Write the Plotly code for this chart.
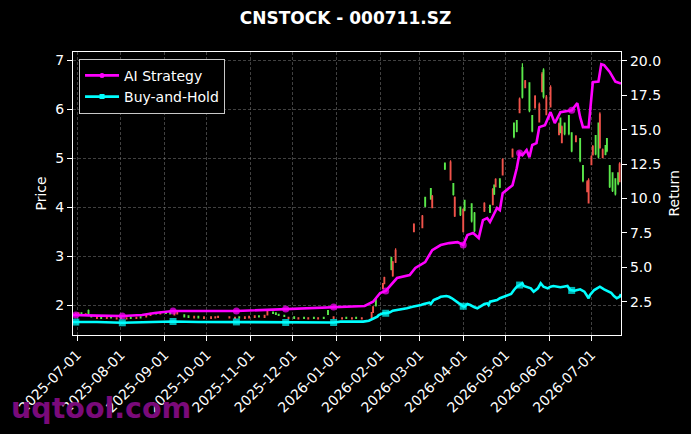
import plotly.graph_objects as go

# ---------------- data ----------------
candle_dates = [
    "2025-06-30","2025-07-02","2025-07-04","2025-07-07","2025-07-09","2025-07-11","2025-07-15","2025-07-18","2025-07-22","2025-07-25",
    "2025-07-29","2025-08-01","2025-08-05","2025-08-08","2025-08-12","2025-08-15","2025-08-19","2025-08-22","2025-08-26","2025-08-29",
    "2025-09-02","2025-09-05","2025-09-08","2025-09-10","2025-09-15","2025-09-18","2025-09-22","2025-09-25","2025-09-29","2025-10-04",
    "2025-10-07","2025-10-09","2025-10-17","2025-10-21","2025-10-24","2025-10-28","2025-10-31","2025-11-04","2025-11-07","2025-11-11",
    "2025-11-13","2025-11-17","2025-11-19","2025-11-21","2025-11-25","2025-11-28","2025-12-02","2025-12-05","2025-12-09","2025-12-12",
    "2025-12-16","2025-12-19","2025-12-23","2025-12-26","2025-12-30","2026-01-05","2026-01-08","2026-01-12","2026-01-15","2026-01-19",
    "2026-01-26","2026-01-27","2026-01-29","2026-02-03","2026-02-04","2026-02-09","2026-02-10","2026-02-12","2026-02-25","2026-03-03",
    "2026-03-05","2026-03-09","2026-03-10","2026-03-19","2026-03-23","2026-03-25","2026-03-26","2026-03-30","2026-04-01","2026-04-02",
    "2026-04-07","2026-04-09","2026-04-16","2026-04-20","2026-04-22","2026-04-23","2026-04-24","2026-04-27","2026-04-29","2026-05-06",
    "2026-05-07","2026-05-09","2026-05-11","2026-05-13","2026-05-15","2026-05-18","2026-05-20","2026-05-22","2026-05-25","2026-05-27",
    "2026-05-28","2026-05-30","2026-06-02","2026-06-08","2026-06-09","2026-06-10","2026-06-12","2026-06-15","2026-06-17","2026-06-20",
    "2026-06-23","2026-06-25","2026-06-28","2026-06-29","2026-07-01","2026-07-02","2026-07-04","2026-07-06","2026-07-07","2026-07-09",
    "2026-07-11","2026-07-12","2026-07-14","2026-07-16","2026-07-18","2026-07-20","2026-07-21",
]
opens = [
    1.80,1.82,1.84,1.81,1.89,1.79,1.73,1.75,1.73,1.76,
    1.72,1.75,1.72,1.75,1.73,1.76,1.76,1.79,1.85,1.82,
    1.86,1.85,1.80,1.82,1.80,1.78,1.74,1.77,1.73,1.73,
    1.74,1.75,1.74,1.73,1.76,1.73,1.74,1.75,1.78,1.75,
    1.80,1.86,1.84,1.81,1.79,1.73,1.76,1.72,1.75,1.72,
    1.75,1.72,1.75,1.89,1.73,1.72,1.75,1.72,1.75,1.72,
    1.74,1.85,2.12,2.34,2.44,2.97,2.60,2.88,3.50,3.58,
    4.20,4.38,3.99,4.90,4.56,4.48,3.82,4.00,3.50,4.14,
    4.07,3.88,3.92,4.04,4.05,4.45,4.42,4.58,4.66,5.03,
    5.72,5.77,5.93,6.85,6.44,6.54,5.87,6.03,5.74,6.36,
    6.80,5.89,6.05,5.48,5.82,5.32,5.72,5.87,5.52,5.34,
    5.40,4.85,4.32,4.09,4.87,5.07,5.46,5.72,5.21,5.01,
    5.26,5.40,4.85,4.70,4.58,4.70,4.52,
]
highs = [
    1.84,1.85,1.85,1.83,1.91,1.80,1.76,1.76,1.76,1.77,
    1.75,1.76,1.75,1.76,1.76,1.77,1.80,1.84,1.86,1.87,
    1.87,1.86,1.84,1.86,1.81,1.79,1.78,1.78,1.77,1.77,
    1.77,1.78,1.77,1.76,1.77,1.77,1.78,1.79,1.79,1.80,
    1.90,1.87,1.85,1.82,1.80,1.76,1.77,1.75,1.76,1.75,
    1.76,1.75,1.76,1.90,1.77,1.75,1.76,1.75,1.76,1.75,
    1.86,1.98,2.15,2.45,2.58,2.99,2.90,3.16,3.67,3.84,
    4.21,4.39,4.25,4.91,4.96,4.49,4.22,4.01,3.98,4.15,
    4.08,3.90,4.10,4.05,4.39,4.46,4.59,4.59,5.00,5.20,
    5.73,5.78,6.24,6.94,6.60,6.55,5.88,6.29,6.14,6.76,
    6.84,6.29,6.49,5.73,5.83,5.67,5.73,5.88,5.53,5.47,
    5.41,4.86,4.55,4.59,5.06,5.27,5.47,5.73,5.94,5.20,
    5.27,5.41,4.86,4.71,4.59,4.71,4.92,
]
lows = [
    1.79,1.80,1.80,1.79,1.80,1.75,1.72,1.72,1.72,1.73,
    1.71,1.72,1.71,1.72,1.72,1.73,1.75,1.78,1.81,1.81,
    1.82,1.81,1.79,1.81,1.75,1.74,1.73,1.73,1.72,1.72,
    1.73,1.74,1.73,1.72,1.73,1.72,1.73,1.74,1.75,1.74,
    1.79,1.82,1.80,1.78,1.76,1.72,1.72,1.71,1.72,1.71,
    1.72,1.71,1.72,1.80,1.72,1.71,1.72,1.71,1.72,1.71,
    1.72,1.84,1.97,2.33,2.43,2.71,2.58,2.86,3.49,3.57,
    4.00,4.15,3.98,4.76,4.55,4.24,3.80,3.82,3.49,3.92,
    3.69,3.49,3.90,3.88,4.04,4.25,4.41,4.39,4.65,5.02,
    5.41,5.53,5.92,6.22,6.43,5.94,5.53,6.02,5.73,6.35,
    6.22,5.88,6.04,5.47,5.51,5.31,5.47,5.47,5.12,5.33,
    4.92,4.51,4.31,4.08,4.86,5.06,5.06,5.00,5.20,5.00,
    5.06,5.12,4.39,4.31,4.24,4.45,4.51,
]
closes = [
    1.83,1.84,1.81,1.82,1.81,1.76,1.75,1.73,1.75,1.74,
    1.74,1.73,1.74,1.73,1.75,1.74,1.79,1.83,1.82,1.86,
    1.83,1.82,1.84,1.85,1.76,1.75,1.77,1.74,1.76,1.76,
    1.76,1.77,1.76,1.75,1.74,1.76,1.77,1.78,1.76,1.79,
    1.88,1.83,1.81,1.79,1.77,1.75,1.73,1.74,1.73,1.74,
    1.73,1.74,1.73,1.81,1.76,1.74,1.73,1.74,1.73,1.74,
    1.85,1.96,1.99,2.44,2.56,2.73,2.88,3.12,3.65,3.82,
    4.02,4.17,4.22,4.78,4.92,4.26,4.20,3.85,3.95,3.94,
    3.72,3.52,4.08,3.90,4.36,4.27,4.57,4.41,4.97,5.18,
    5.44,5.55,6.21,6.25,6.58,5.97,5.56,6.26,6.10,6.72,
    6.26,6.25,6.45,5.70,5.54,5.64,5.50,5.50,5.15,5.45,
    4.95,4.54,4.52,4.55,5.03,5.24,5.09,5.03,5.90,5.17,
    5.08,5.15,4.42,4.34,4.27,4.48,4.88,
]

ai_dates = [
    "2025-06-28","2025-06-30","2025-07-15","2025-08-02","2025-08-16","2025-08-25","2025-09-07","2025-10-22","2025-11-26","2025-12-30",
    "2026-01-21","2026-01-27","2026-02-01","2026-02-05","2026-02-13","2026-02-22","2026-02-26","2026-03-05","2026-03-10","2026-03-16",
    "2026-03-22","2026-03-28","2026-04-01","2026-04-04","2026-04-08","2026-04-12","2026-04-15","2026-04-18","2026-04-20","2026-04-25",
    "2026-04-27","2026-04-29","2026-05-06","2026-05-09","2026-05-11","2026-05-13","2026-05-16","2026-05-18","2026-05-20","2026-05-23",
    "2026-05-25","2026-05-29","2026-06-02","2026-06-05","2026-06-09","2026-06-17","2026-06-21","2026-06-23","2026-06-25","2026-06-29",
    "2026-07-02","2026-07-06","2026-07-08","2026-07-10","2026-07-14","2026-07-18","2026-07-22",
]
ai_values = [
    1.53,1.53,1.49,1.46,1.53,1.68,1.82,1.82,1.97,2.12,
    2.19,2.50,3.13,3.28,4.22,4.44,4.95,5.38,6.25,6.62,
    6.76,6.83,6.62,7.34,7.49,7.13,8.43,8.58,8.29,9.31,
    9.16,10.39,10.97,12.20,13.30,13.15,13.52,13.00,13.89,14.03,
    15.19,15.33,16.28,15.48,16.28,16.42,16.93,15.91,15.19,15.19,
    18.45,18.50,19.76,19.70,19.20,18.50,18.36,
]

bh_dates = [
    "2025-06-28","2025-06-30","2025-07-15","2025-08-02","2025-08-20","2025-09-07","2025-09-25","2025-10-22","2025-11-10","2025-11-26",
    "2025-12-12","2025-12-30","2026-01-04","2026-01-20","2026-01-24","2026-01-27","2026-01-30","2026-01-31","2026-02-03","2026-02-05",
    "2026-02-08","2026-02-10","2026-02-13","2026-02-15","2026-02-18","2026-02-20","2026-02-24","2026-02-27","2026-03-02","2026-03-04",
    "2026-03-06","2026-03-08","2026-03-09","2026-03-11","2026-03-14","2026-03-16","2026-03-20","2026-03-22","2026-03-24","2026-03-27",
    "2026-03-29","2026-04-01","2026-04-02","2026-04-04","2026-04-06","2026-04-09","2026-04-11","2026-04-13","2026-04-16","2026-04-18",
    "2026-04-19","2026-04-20","2026-04-23","2026-04-25","2026-04-27","2026-04-30","2026-05-02","2026-05-05","2026-05-07","2026-05-09",
    "2026-05-11","2026-05-13","2026-05-14","2026-05-16","2026-05-19","2026-05-21","2026-05-24","2026-05-26","2026-05-27","2026-05-28",
    "2026-05-31","2026-06-02","2026-06-04","2026-06-07","2026-06-09","2026-06-11","2026-06-14","2026-06-16","2026-06-17","2026-06-19",
    "2026-06-21","2026-06-23","2026-06-26","2026-06-28","2026-06-29","2026-06-30","2026-07-03","2026-07-05","2026-07-07","2026-07-10",
    "2026-07-12","2026-07-15","2026-07-17","2026-07-19","2026-07-21","2026-07-22",
]
bh_values = [
    1.02,1.02,1.03,0.97,1.00,1.06,1.03,1.03,1.02,0.99,
    1.01,0.99,1.05,1.05,1.12,1.29,1.41,1.53,1.66,1.66,
    1.73,1.85,1.90,1.90,1.97,2.02,2.14,2.19,2.26,2.33,
    2.38,2.43,2.33,2.62,2.75,2.86,2.91,2.86,2.75,2.50,
    2.38,2.17,2.14,2.33,2.26,2.09,2.02,2.14,2.33,2.38,
    2.26,2.50,2.57,2.62,2.75,2.86,2.99,3.06,3.35,3.59,
    3.71,3.84,3.64,3.55,3.47,3.23,3.47,3.84,3.71,3.59,
    3.47,3.59,3.64,3.59,3.55,3.59,3.64,3.35,3.32,3.30,
    3.35,3.40,3.23,2.86,2.75,2.99,3.35,3.47,3.59,3.40,
    3.30,3.15,2.91,2.75,2.86,3.05,
]

marker_dates = ["2025-06-30","2025-08-02","2025-09-07","2025-10-22","2025-11-26","2025-12-30",
                "2026-02-05","2026-04-01","2026-05-11","2026-06-17"]

month_ticks = ["2025-07-01","2025-08-01","2025-09-01","2025-10-01","2025-11-01","2025-12-01",
               "2026-01-01","2026-02-01","2026-03-01","2026-04-01","2026-05-01","2026-06-01","2026-07-01"]
price_ticks = [2, 3, 4, 5, 6, 7]
return_ticks = [2.5, 5.0, 7.5, 10.0, 12.5, 15.0, 17.5, 20.0]

# ---------------- figure ----------------
FONT = "DejaVu Sans"
FS = 14
RED = "#f0524a"
GREEN = "#5ae84a"
MAG = "#ff00ff"
CYAN = "#00ffff"

fig = go.Figure()

fig.add_trace(go.Candlestick(
    x=candle_dates, open=opens, high=highs, low=lows, close=closes,
    increasing=dict(line=dict(color=RED, width=1.2), fillcolor=RED),
    decreasing=dict(line=dict(color=GREEN, width=1.2), fillcolor=GREEN),
    whiskerwidth=0, showlegend=False, hoverinfo="skip", yaxis="y",
))

ai_sizes = [7 if d in marker_dates else 0 for d in ai_dates]
bh_sizes = [7 if d in marker_dates else 0 for d in bh_dates]

fig.add_trace(go.Scatter(
    x=ai_dates, y=ai_values, mode="lines+markers", yaxis="y2",
    line=dict(color=MAG, width=2.6),
    marker=dict(color=MAG, size=ai_sizes, symbol="circle", line=dict(width=0)),
    showlegend=False,
))
fig.add_trace(go.Scatter(
    x=bh_dates, y=bh_values, mode="lines+markers", yaxis="y2",
    line=dict(color=CYAN, width=2.6),
    marker=dict(color=CYAN, size=bh_sizes, symbol="square", line=dict(width=0)),
    showlegend=False,
))
# legend entries
fig.add_trace(go.Scatter(
    x=[None], y=[None], mode="lines+markers", yaxis="y2", name="AI Strategy",
    line=dict(color=MAG, width=2.6), marker=dict(color=MAG, size=5, symbol="circle", line=dict(width=0)),
))
fig.add_trace(go.Scatter(
    x=[None], y=[None], mode="lines+markers", yaxis="y2", name="Buy-and-Hold",
    line=dict(color=CYAN, width=2.6), marker=dict(color=CYAN, size=5, symbol="square", line=dict(width=0)),
))

grid = dict(showgrid=True, gridcolor="rgba(128,128,128,0.5)", griddash="3px,2px", gridwidth=0.7)

fig.update_layout(
    width=691, height=434,
    paper_bgcolor="black", plot_bgcolor="black",
    margin=dict(l=73, r=70, t=52, b=99),
    font=dict(family=FONT, color="white", size=FS),
    title=dict(text="CNSTOCK - 000711.SZ", x=0.5, xanchor="center", y=1 - 18 / 434, yanchor="middle",
               font=dict(family=FONT, size=17, color="white", weight="bold")),
    xaxis=dict(
        type="date", range=["2025-06-28", "2026-07-22"],
        tickvals=month_ticks, ticktext=month_ticks, tickangle=-45,
        tickfont=dict(size=FS, color="white"),
        ticks="outside", ticklen=5, tickcolor="white",
        showline=True, linecolor="white", linewidth=1.2, mirror=True,
        rangeslider=dict(visible=False), zeroline=False, **grid,
    ),
    yaxis=dict(
        range=[1.39, 7.17], tickvals=price_ticks, ticktext=[str(v) for v in price_ticks],
        tickfont=dict(size=FS, color="white"),
        ticks="outside", ticklen=5, tickcolor="white",
        showline=True, linecolor="white", linewidth=1.2, mirror=True,
        zeroline=False, **grid,
    ),
    yaxis2=dict(
        overlaying="y", side="right", range=[0.08, 20.65],
        tickvals=return_ticks, ticktext=[f"{v:.1f}" for v in return_ticks],
        tickfont=dict(size=FS, color="white"),
        ticks="outside", ticklen=5, tickcolor="white",
        showline=True, linecolor="white", linewidth=1.2,
        showgrid=False, zeroline=False,
    ),
    legend=dict(
        x=0.011, y=0.976, xanchor="left", yanchor="top",
        bgcolor="black", bordercolor="#c8c8c8", borderwidth=1,
        font=dict(family=FONT, size=FS, color="white"),
        itemwidth=34,
    ),
    annotations=[
        dict(text="Price", xref="paper", yref="paper", x=0, y=0.5, xshift=-33,
             textangle=-90, showarrow=False, font=dict(family=FONT, size=FS, color="white"),
             xanchor="center", yanchor="middle"),
        dict(text="Return", xref="paper", yref="paper", x=1, y=0.5, xshift=52,
             textangle=-90, showarrow=False, font=dict(family=FONT, size=FS, color="white"),
             xanchor="center", yanchor="middle"),
        dict(text="uqtool.com", xref="paper", yref="paper", x=0, y=(335 - 409) / 283.3, xshift=-64,
             xanchor="left", yanchor="middle", showarrow=False,
             font=dict(family=FONT, size=28.5, color="#7a0a7a", weight="bold")),
    ],
)

fig.write_html("out.html")
